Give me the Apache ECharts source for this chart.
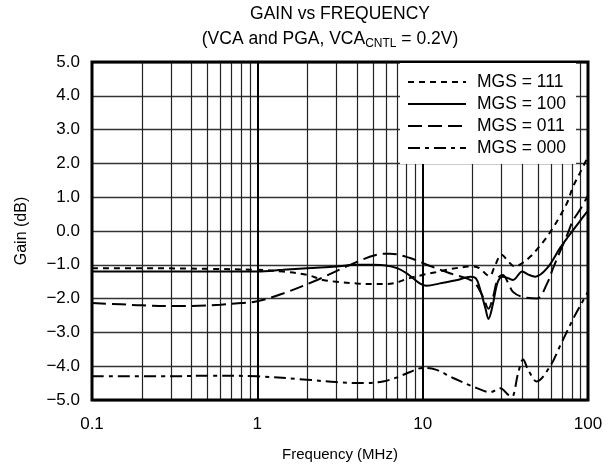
<!DOCTYPE html>
<html><head><meta charset="utf-8">
<script src="https://cdn.jsdelivr.net/npm/echarts@6/dist/echarts.min.js"></script>
<style>html,body{margin:0;padding:0;background:#fff}#c{width:613px;height:472px}</style>
</head><body><div id="c"></div>
<script>
// Frequency (MHz) and gain (dB)
const mgs111 = [[0.1,-1.1],[0.2,-1.1],[0.5,-1.12],[1,-1.15],[1.43,-1.2],[2.0,-1.3],[2.5,-1.45],[3,-1.5],[4,-1.55],[5,-1.57],[6,-1.57],[7,-1.52],[8,-1.42],[10,-1.3],[12,-1.22],[15,-1.12],[20,-1.05],[22,-1.1],[24.5,-1.3],[25.5,-1.33],[27,-1.1],[30,-0.7],[33,-0.9],[36,-1.05],[40,-0.95],[45,-0.75],[50,-0.5],[55,-0.25],[61.5,0.1],[67.8,0.45],[75,0.85],[81,1.3],[90,1.75],[100,2.2]];
const mgs100 = [[0.1,-1.2],[0.5,-1.2],[1,-1.2],[1.43,-1.15],[2,-1.1],[3,-1.05],[4,-1.0],[5,-1.0],[6,-1.02],[7,-1.1],[8,-1.25],[9.6,-1.55],[10.6,-1.62],[12.7,-1.55],[16.2,-1.45],[19.4,-1.35],[21,-1.4],[22.2,-1.7],[24,-2.3],[25,-2.6],[26.5,-2.2],[28.5,-1.5],[30.6,-1.35],[33,-1.4],[35.2,-1.45],[40,-1.2],[44,-1.3],[48,-1.35],[56.6,-1.1],[67.8,-0.5],[75,-0.2],[89.6,0.3],[100,0.6]];
const mgs011 = [[0.1,-2.13],[0.15,-2.17],[0.2,-2.2],[0.3,-2.22],[0.4,-2.22],[0.6,-2.18],[0.8,-2.13],[1,-2.08],[1.43,-1.85],[2.3,-1.45],[3.64,-1.0],[5.3,-0.7],[6.35,-0.67],[8.4,-0.8],[10.6,-1.0],[14.6,-1.25],[20.2,-1.5],[23.2,-1.95],[25,-2.3],[26.5,-2.0],[28.5,-1.4],[30.5,-1.3],[33,-1.55],[35.2,-1.8],[40,-1.95],[49,-2.0],[56.6,-1.55],[61.5,-1.1],[67.8,-0.6],[75,-0.1],[81,0.3],[90,0.65],[100,1.05]];
const mgs000 = [[0.1,-4.3],[0.3,-4.3],[0.5,-4.28],[1,-4.3],[2,-4.4],[3,-4.47],[4.4,-4.5],[5.75,-4.45],[7,-4.33],[8.4,-4.17],[10,-4.05],[12,-4.1],[15.3,-4.35],[21.3,-4.65],[25.6,-4.77],[29.4,-4.65],[33,-4.85],[34.7,-4.9],[37.8,-4.2],[40.5,-3.8],[43.4,-4.1],[49,-4.45],[59,-4.0],[67.8,-3.4],[81.3,-2.6],[90,-2.2],[100,-1.8]];
const seriesNames = ['MGS = 111','MGS = 100','MGS = 011','MGS = 000'];
const minorX = [0.2,0.3,0.4,0.5,0.6,0.7,0.8,0.9,2,3,4,5,6,7,8,9,20,30,40,50,60,70,80,90];
const xTickLabels = ['0.1','1','10','100'];

const FONT = 'Liberation Sans, Arial, sans-serif';
const chart = echarts.init(document.getElementById('c'), null, {renderer:'canvas'});
function mk(name, data, type){
  return {name, type:'line', data, symbol:'none', smooth:0.35, z:5,
    lineStyle:{color:'#000', width:2, type},
    itemStyle:{color:'#000'}, emphasis:{disabled:true}};
}
const opt = {
  animation:false,
  backgroundColor:'#fff',
  title:[{
    text:'GAIN vs FREQUENCY',
    left:340, top:5, textAlign:'center', padding:0,
    textStyle:{fontFamily:FONT, fontSize:17.5, fontWeight:'normal', color:'#000'}
  },{
    text:'(VCA and PGA, VCA{sub|CNTL} = 0.2V)',
    left:330, top:29, textAlign:'center', padding:0,
    textStyle:{fontFamily:FONT, fontSize:17.5, fontWeight:'normal', color:'#000',
      rich:{sub:{fontFamily:FONT, fontSize:12, color:'#000', padding:[9,0,0,0]}}}
  }],
  grid:{left:92, right:25, top:62, bottom:72, show:true, borderColor:'#000', borderWidth:3, backgroundColor:'transparent', z:10},
  legend:{
    orient:'vertical', left:400, top:63, itemGap:4, itemWidth:58, itemHeight:14,
    padding:[10,10,7,7], backgroundColor:'#fff', z:20,
    itemStyle:{opacity:0, borderWidth:0},
    textStyle:{fontFamily:FONT, fontSize:17.5, lineHeight:18, color:'#000', padding:[0,0,0,6]},
    data:seriesNames
  },
  xAxis:{
    type:'log', logBase:10, min:0.1, max:100,
    axisLine:{show:false}, axisTick:{show:false},
    axisLabel:{fontFamily:FONT, fontSize:17, color:'#000', margin:16,
      formatter:(v)=>{const i=Math.round(Math.log10(v))+1; return xTickLabels[i]!==undefined?xTickLabels[i]:'';}},
    splitLine:{show:true, lineStyle:{color:'#000', width:2}},
    name:'Frequency (MHz)', nameLocation:'middle', nameGap:47,
    nameTextStyle:{fontFamily:FONT, fontSize:15, color:'#000'}
  },
  yAxis:{
    type:'value', min:-5, max:5, interval:1,
    axisLine:{show:false}, axisTick:{show:false},
    axisLabel:{fontFamily:FONT, fontSize:17, color:'#000', margin:12,
      formatter:(v)=>v.toFixed(1).replace('-','\u2212')},
    splitLine:{show:true, lineStyle:{color:'#333', width:1.3}},
    name:'Gain (dB)', nameLocation:'middle', nameGap:62, nameRotate:90,
    nameTextStyle:{fontFamily:FONT, fontSize:16, color:'#000'}
  },
  series:[
    {type:'line', data:[], silent:true, z:1,
      markLine:{silent:true, symbol:'none', label:{show:false},
        lineStyle:{color:'#222', width:1.2, type:'solid'},
        data:minorX.map(v=>({xAxis:v}))}},
    mk(seriesNames[0], mgs111, [6,5]),
    mk(seriesNames[1], mgs100, 'solid'),
    mk(seriesNames[2], mgs011, [14,6]),
    mk(seriesNames[3], mgs000, [12,5,4,5])
  ]
};
chart.setOption(opt);
</script></body></html>
